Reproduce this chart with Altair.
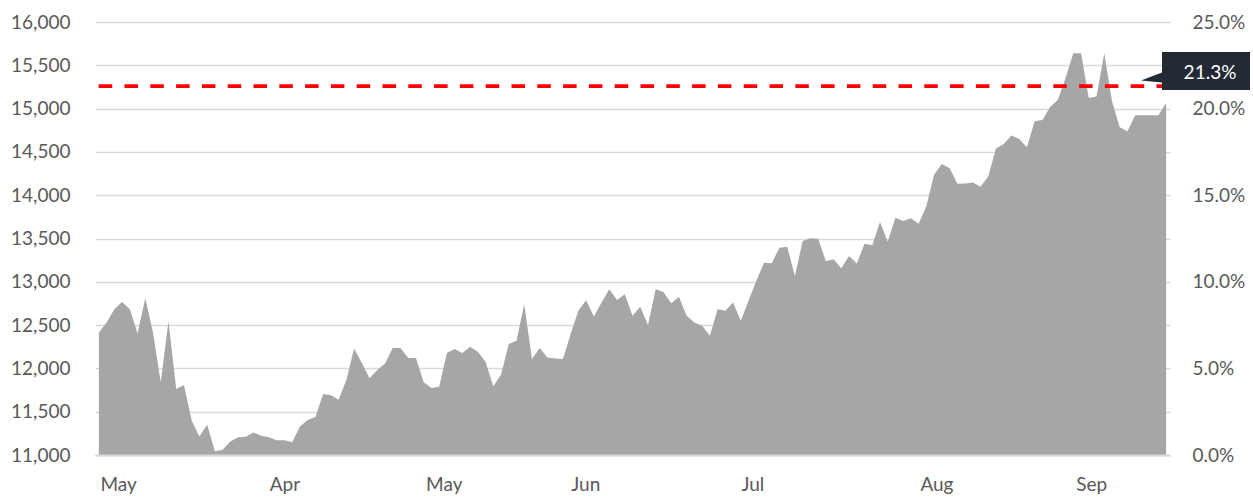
import altair as alt
import pandas as pd

# ---- data ----
values = [12415, 12530, 12684, 12768, 12684, 12403, 12811, 12415, 11839, 12541,
          11762, 11809, 11397, 11213, 11348, 11044, 11060, 11155, 11205, 11210,
          11259, 11221, 11205, 11171, 11171, 11147, 11328, 11405, 11440, 11705,
          11689, 11639, 11866, 12230, 12062, 11885, 11981, 12058, 12235, 12235,
          12120, 12120, 11839, 11774, 11789, 12177, 12223, 12177, 12250, 12192,
          12077, 11793, 11927, 12281, 12319, 12742, 12108, 12235, 12127, 12115,
          12108, 12396, 12665, 12788, 12599, 12760, 12914, 12791, 12857, 12607,
          12711, 12500, 12914, 12883, 12753, 12826, 12607, 12530, 12492, 12377,
          12684, 12665, 12760, 12549, 12780, 13010, 13221, 13214, 13394, 13405,
          13068, 13471, 13502, 13498, 13237, 13260, 13157, 13298, 13210, 13440,
          13421, 13690, 13463, 13740, 13702, 13733, 13670, 13874, 14240, 14361,
          14315, 14131, 14136, 14147, 14097, 14220, 14539, 14592, 14689, 14650,
          14554, 14853, 14868, 15018, 15103, 15352, 15640, 15640, 15122, 15141,
          15640, 15084, 14784, 14738, 14923, 14923, 14923, 14923, 15064]
month_labels = ["May", "Apr", "May", "Jun", "Jul", "Aug", "Sep"]
month_positions = [2.5, 24.0, 44.6, 62.9, 84.5, 108.3, 128.3]
left_ticks = list(range(11000, 16001, 500))
right_ticks = [0, 5, 10, 15, 20, 25]
line_pct = [21.3]
line_label = ["21.3%"]

W, H = 1075, 433
FONT = "Lato"
LABEL_COLOR = "#595959"
FS = 19

df = pd.DataFrame({"i": list(range(len(values))), "v": values})
ldf = pd.DataFrame({"pct": line_pct, "label": line_label})

xscale = alt.Scale(domain=[-0.5, len(values) - 0.5], nice=False, zero=False)
lscale = alt.Scale(domain=[11000, 16000], nice=False, zero=False)
rscale = alt.Scale(domain=[0, 25], nice=False, zero=False)

pos_arr = "[" + ",".join(str(p) for p in month_positions) + "]"
lab_arr = "[" + ",".join("'" + m + "'" for m in month_labels) + "]"

area = alt.Chart(df).mark_area(color="#a6a6a6", opacity=1, line=False).encode(
    x=alt.X("i:Q", scale=xscale,
            axis=alt.Axis(values=month_positions,
                          labelExpr=lab_arr + "[indexof(" + pos_arr + ", datum.value)]",
                          grid=False, ticks=False, domain=True,
                          domainColor="#d9d9d9", domainWidth=2,
                          labelFont=FONT, labelFontSize=FS, labelColor=LABEL_COLOR,
                          labelPadding=20, labelFlush=False, labelOverlap=False,
                          title=None, zindex=1)),
    y=alt.Y("v:Q", scale=lscale,
            axis=alt.Axis(values=left_ticks,
                          labelExpr="format(datum.value, ',.0f')",
                          grid=True, gridColor="#d9d9d9", gridWidth=1.3,
                          ticks=False, domain=False, orient="left",
                          labelFont=FONT, labelFontSize=FS, labelColor=LABEL_COLOR,
                          labelPadding=25, title=None)),
    y2=alt.datum(11000),
)

rule = alt.Chart(ldf).mark_rule(color="#ff0000", strokeWidth=3.6,
                                strokeDash=[13.5, 12.3]).encode(
    y=alt.Y("pct:Q", scale=rscale,
            axis=alt.Axis(values=right_ticks, orient="right",
                          labelExpr="format(datum.value, '.1f') + '%'",
                          grid=False, ticks=False, domain=False,
                          labelFont=FONT, labelFontSize=FS, labelColor=LABEL_COLOR,
                          labelPadding=22, labelAlign="left", title=None)),
)

callout_path = "M 0 -34 L 88 -34 L 88 4 L 0 4 L 0 -3.5 L -21 -5.5 L 0 -13.5 Z"
callout = alt.Chart(ldf).mark_point(shape=callout_path, size=4, filled=True,
                                    color="#232a35", opacity=1, strokeWidth=0).encode(
    x=alt.value(W - 8),
    y=alt.Y("pct:Q", scale=rscale, axis=None),
)

label = alt.Chart(ldf).mark_text(color="#ffffff", font=FONT, fontSize=FS,
                                 align="center", baseline="middle", dy=-13).encode(
    x=alt.value(W + 40),
    y=alt.Y("pct:Q", scale=rscale, axis=None),
    text="label:N",
)

chart = alt.layer(area, rule, callout, label).resolve_scale(y="independent").properties(
    width=W, height=H,
    autosize=alt.AutoSizeParams(type="none"),
    padding={"left": 95, "top": 22, "right": 83, "bottom": 43},
    background="white",
).configure_view(stroke=None)

chart.save("out.html", embed_options={"renderer": "svg", "actions": False})
